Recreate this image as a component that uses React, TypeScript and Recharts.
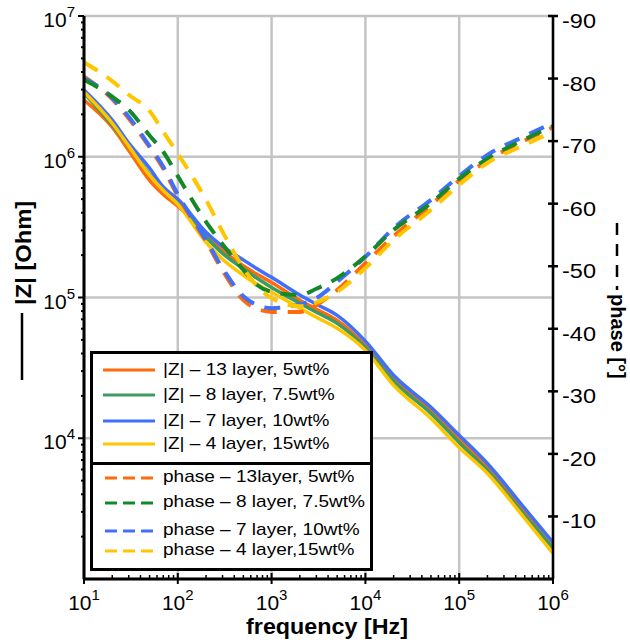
import React from "react";
import { LineChart, Line, XAxis, YAxis, CartesianGrid } from "recharts";

// frequency points
const freqHz = [10, 20, 30, 50, 70, 100, 200, 300, 500, 700, 1000, 2000, 3000, 5000, 10000, 20000, 50000, 100000, 200000, 500000, 1000000];

// |Z| in Ohm
const zOrange = [2.53e6, 1.62e6, 1.11e6, 6.8e5, 5.4e5, 4.45e5, 2.87e5, 2.17e5, 1.68e5, 1.46e5, 1.28e5, 9.55e4, 8.25e4, 6.88e4, 4.57e4, 2.66e4, 1.58e4, 9.97e3, 6.2e3, 2.97e3, 1.67e3];
const zGreen = [2.83e6, 1.68e6, 1.19e6, 7.5e5, 5.85e5, 4.7e5, 2.68e5, 2.06e5, 1.6e5, 1.37e5, 1.18e5, 9.1e4, 7.85e4, 6.55e4, 4.4e4, 2.54e4, 1.5e4, 9.34e3, 5.9e3, 2.83e3, 1.65e3];
const zBlue = [2.98e6, 1.82e6, 1.25e6, 8.3e5, 6.1e5, 5.0e5, 2.91e5, 2.31e5, 1.85e5, 1.6e5, 1.39e5, 1.04e5, 8.96e4, 7.47e4, 4.9e4, 2.8e4, 1.66e4, 1.05e4, 6.62e3, 3.17e3, 1.82e3];
const zYellow = [2.88e6, 1.73e6, 1.19e6, 7.4e5, 5.75e5, 4.6e5, 2.47e5, 1.87e5, 1.44e5, 1.24e5, 1.09e5, 8.4e4, 7.23e4, 6.04e4, 4.21e4, 2.38e4, 1.38e4, 8.6e3, 5.62e3, 2.69e3, 1.52e3];

// phase in degrees
const phaseOrange = [-80.3, -76.7, -73.6, -69.0, -65.6, -61.2, -54.0, -49.3, -44.6, -43.2, -42.7, -42.7, -43.8, -46.2, -50.5, -54.8, -59.8, -63.7, -66.9, -70.1, -72.2];
const phaseGreen = [-79.8, -77.1, -75.0, -70.9, -68.3, -64.4, -57.1, -53.5, -49.4, -47.0, -45.9, -45.4, -46.4, -48.1, -51.6, -55.8, -60.1, -64.0, -67.2, -70.3, -72.4];
const phaseBlue = [-80.1, -76.9, -73.9, -69.2, -65.9, -61.5, -54.2, -49.7, -45.2, -43.8, -43.3, -43.9, -44.9, -47.5, -51.5, -56.1, -60.6, -64.4, -67.8, -70.8, -72.9];
const phaseYellow = [-82.6, -79.6, -77.4, -74.8, -71.5, -68.0, -60.6, -55.5, -49.7, -46.8, -44.9, -43.6, -44.2, -45.9, -49.7, -54.2, -59.0, -63.0, -66.5, -69.4, -71.5];

const xMajor = [10, 100, 1000, 10000, 100000, 1000000];
const zMajor = [1e4, 1e5, 1e6, 1e7];
const phaseTicks = [-90, -80, -70, -60, -50, -40, -30, -20, -10];

const zLegend = ["|Z| \u2013 13 layer, 5wt%", "|Z| \u2013 8 layer, 7.5wt%", "|Z| \u2013 7 layer, 10wt%", "|Z| \u2013 4 layer, 15wt%"];
const phaseLegend = ["phase \u2013 13layer, 5wt%", "phase \u2013 8 layer, 7.5wt%", "phase \u2013 7 layer, 10wt%", "phase \u2013 4 layer,15wt%"];

const ORANGE = "#FF6A0D";
const GREEN = "#3B9B62";
const GREEN_DASH = "#15882A";
const BLUE = "#4070F8";
const YELLOW = "#FFC600";

const zColors = [ORANGE, GREEN, BLUE, YELLOW];
const phaseColors = [ORANGE, GREEN_DASH, BLUE, YELLOW];

// minor log ticks (2..9 per decade)
const minorTicks = (from: number, to: number) => {
  const out: number[] = [];
  for (let d = from; d < to; d *= 10) {
    for (let k = 1; k <= 9; k++) out.push(d * k);
  }
  out.push(to);
  return out;
};

const data = freqHz.map((f, i) => ({
  f,
  zO: zOrange[i],
  zG: zGreen[i],
  zB: zBlue[i],
  zY: zYellow[i],
  pO: phaseOrange[i],
  pG: phaseGreen[i],
  pB: phaseBlue[i],
  pY: phaseYellow[i],
}));

const isDecade = (v: number) => {
  const e = Math.log10(v);
  return Math.abs(e - Math.round(e)) < 1e-6;
};

const XTick = (props: any) => {
  const { x, y, payload } = props;
  const v = payload.value;
  if (!isDecade(v)) {
    return <line x1={x} x2={x} y1={y} y2={y - 4} stroke="#000" strokeWidth={1.5} />;
  }
  return (
    <g>
      <line x1={x} x2={x} y1={y - 6} y2={y + 5} stroke="#000" strokeWidth={2} />
      <text x={x} y={y + 31} textAnchor="middle" fontSize={21} fill="#000">
        10
        <tspan fontSize={15} dy={-10}>{Math.round(Math.log10(v))}</tspan>
      </text>
    </g>
  );
};

const ZTick = (props: any) => {
  const { x, y, payload } = props;
  const v = payload.value;
  if (!isDecade(v)) {
    return <line x1={x} x2={x - 3} y1={y} y2={y} stroke="#000" strokeWidth={2} />;
  }
  if (v <= 1000) return <g />;
  return (
    <g>
      <line x1={x} x2={x - 6} y1={y} y2={y} stroke="#000" strokeWidth={2} />
      <text x={x - 9} y={y + 11} textAnchor="end" fontSize={21} fill="#000">
        10
        <tspan fontSize={15} dy={-10}>{Math.round(Math.log10(v))}</tspan>
      </text>
    </g>
  );
};

const PhaseTick = (props: any) => {
  const { x, y, payload } = props;
  return (
    <g>
      <line x1={x - 5} x2={x + 5} y1={y} y2={y} stroke="#000" strokeWidth={2.5} />
      <text x={x + 9} y={y + 12} fontSize={21} fill="#000" transform={`translate(${x + 9} 0) scale(1.12 1) translate(${-(x + 9)} 0)`}>
        {payload.value}
      </text>
    </g>
  );
};

const Legend = () => {
  const rowsZ = [19, 44, 70, 93];
  const rowsP = [126, 151, 179, 199];
  return (
    <svg width={286} height={224} style={{ position: "absolute", left: 89, top: 350 }}>
      <rect x={2.5} y={2.5} width={280} height={217} fill="#fff" stroke="#000" strokeWidth={3} />
      <line x1={2.5} x2={282.5} y1={113.5} y2={113.5} stroke="#000" strokeWidth={3} />
      {zLegend.map((t, i) => (
        <g key={t}>
          <line x1={14} x2={66} y1={rowsZ[i] + 1} y2={rowsZ[i] + 1} stroke={zColors[i]} strokeWidth={3} />
          <text x={0} y={0} fontSize={17} fill="#000" transform={`translate(74 ${rowsZ[i] + 6}) scale(1.12 1)`}>
            {t}
          </text>
        </g>
      ))}
      {phaseLegend.map((t, i) => (
        <g key={t}>
          <line x1={16} x2={64} y1={rowsP[i] + 2} y2={rowsP[i] + 2} stroke={phaseColors[i]} strokeWidth={3} strokeDasharray="12 6" />
          <text x={0} y={0} fontSize={17} fill="#000" transform={`translate(74 ${rowsP[i] + 6}) scale(1.12 1)`}>
            {t}
          </text>
        </g>
      ))}
    </svg>
  );
};

const Titles = () => (
  <svg width={630} height={640} style={{ position: "absolute", left: 0, top: 0, pointerEvents: "none" }}>
    <text transform="translate(327 634) scale(1.06 1)" textAnchor="middle" fontSize={22} fontWeight="bold" fill="#000">
      frequency [Hz]
    </text>
    <line x1={22} x2={22} y1={313} y2={380} stroke="#000" strokeWidth={2.5} />
    <text transform="translate(31 305) rotate(-90) scale(1.08 1)" fontSize={22} fontWeight="bold" fill="#000">
      |Z| [Ohm]
    </text>
    <line x1={617} x2={617} y1={223} y2={290} stroke="#000" strokeWidth={2.5} strokeDasharray="12 9" />
    <text transform="translate(611 294) rotate(90)" fontSize={20} fontWeight="bold" fill="#000">
      phase [°]
    </text>
  </svg>
);

export default function App() {
  return (
    <div
      style={{
        position: "absolute",
        left: 0,
        top: 0,
        width: 630,
        height: 640,
        background: "#fff",
        fontFamily: '"Liberation Sans", Arial, sans-serif',
      }}
    >
      <LineChart width={630} height={640} data={data} margin={{ top: 16, right: 0, bottom: 0, left: 0 }}>
        <XAxis xAxisId="grid" dataKey="f" type="number" scale="log" domain={[10, 1e6]} ticks={xMajor} allowDataOverflow hide />
        <YAxis yAxisId="zgrid" type="number" scale="log" domain={[1e3, 1e7]} ticks={zMajor} allowDataOverflow hide />
        <CartesianGrid xAxisId="grid" yAxisId="zgrid" stroke="#c4c4c4" strokeWidth={2.5} />
        <XAxis
          dataKey="f"
          type="number"
          scale="log"
          domain={[10, 1e6]}
          ticks={minorTicks(10, 1e6)}
          interval={0}
          allowDataOverflow
          height={61}
          tickLine={false}
          tickSize={0}
          tickMargin={0}
          axisLine={{ stroke: "#000", strokeWidth: 3 }}
          tick={<XTick />}
        />
        <YAxis
          yAxisId="z"
          type="number"
          scale="log"
          domain={[1e3, 1e7]}
          ticks={minorTicks(1e3, 1e7)}
          interval={0}
          allowDataOverflow
          width={84}
          tickLine={false}
          tickSize={0}
          tickMargin={0}
          axisLine={{ stroke: "#000", strokeWidth: 3 }}
          tick={<ZTick />}
        />
        <YAxis
          yAxisId="phase"
          orientation="right"
          type="number"
          domain={[-90, 0]}
          reversed
          ticks={phaseTicks}
          interval={0}
          allowDataOverflow
          width={77}
          tickLine={false}
          tickSize={0}
          tickMargin={0}
          axisLine={{ stroke: "#000", strokeWidth: 2.5 }}
          tick={<PhaseTick />}
        />
        <Line yAxisId="z" dataKey="zO" stroke={ORANGE} strokeWidth={3.5} dot={false} type="monotone" isAnimationActive={false} />
        <Line yAxisId="z" dataKey="zG" stroke={GREEN} strokeWidth={3.5} dot={false} type="monotone" isAnimationActive={false} />
        <Line yAxisId="z" dataKey="zB" stroke={BLUE} strokeWidth={3.5} dot={false} type="monotone" isAnimationActive={false} />
        <Line yAxisId="z" dataKey="zY" stroke={YELLOW} strokeWidth={3.5} dot={false} type="monotone" isAnimationActive={false} />
        <Line yAxisId="phase" dataKey="pO" stroke={ORANGE} strokeWidth={4} strokeDasharray="16 11" dot={false} type="monotone" isAnimationActive={false} />
        <Line yAxisId="phase" dataKey="pB" stroke={BLUE} strokeWidth={4} strokeDasharray="16 11" dot={false} type="monotone" isAnimationActive={false} />
        <Line yAxisId="phase" dataKey="pG" stroke={GREEN_DASH} strokeWidth={4} strokeDasharray="16 11" dot={false} type="monotone" isAnimationActive={false} />
        <Line yAxisId="phase" dataKey="pY" stroke={YELLOW} strokeWidth={4} strokeDasharray="16 11" dot={false} type="monotone" isAnimationActive={false} />
      </LineChart>
      <Legend />
      <Titles />
    </div>
  );
}
